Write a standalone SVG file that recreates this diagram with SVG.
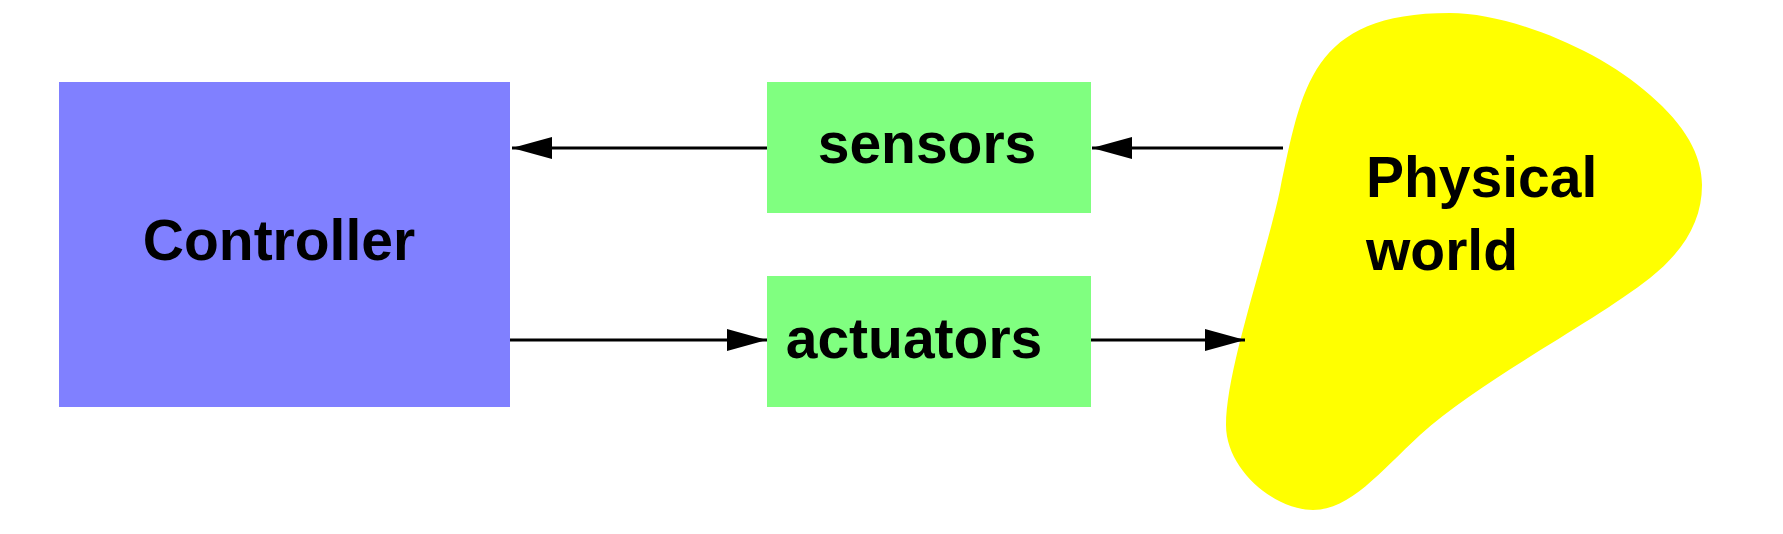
<svg xmlns="http://www.w3.org/2000/svg" width="1783" height="534" viewBox="0 0 1783 534">
<defs>
<style>
.lbl{font-family:"Liberation Sans",Arial,sans-serif;font-weight:bold;font-size:57px;fill:#000}
.conn{stroke:#000;stroke-width:3;fill:none}
</style>
<marker id="ah" markerUnits="userSpaceOnUse" markerWidth="42" markerHeight="24" refX="40" refY="12" orient="auto">
<path d="M0,1 L40,12 L0,23 Z" fill="#000"/>
</marker>
</defs>
<rect width="1783" height="534" fill="#fff"/>
<g id="controller">
<rect x="59" y="82" width="451" height="325" fill="#8080FF"/>
<text class="lbl" x="279" y="260" text-anchor="middle">Controller</text>
</g>
<g id="sensors">
<rect x="767" y="82" width="324" height="131" fill="#80FF80"/>
<text class="lbl" x="927" y="163" text-anchor="middle">sensors</text>
</g>
<g id="actuators">
<rect x="767" y="276" width="324" height="131" fill="#80FF80"/>
<text class="lbl" x="914" y="358" text-anchor="middle">actuators</text>
</g>
<g id="physical-world">
<path d="M1450,13 C1510,13 1600,50 1650,95 C1685,125 1702,155 1702,185 C1702,220 1685,250 1650,278 C1590,325 1480,380 1420,435 C1380,472 1350,510 1313,510 C1275,510 1226,470 1226,425 C1226,370 1265,260 1280,190 C1302,88 1310,13 1450,13 Z" fill="#FFFF00"/>
<text class="lbl" x="1366" y="197">Physical</text>
<text class="lbl" x="1366" y="270">world</text>
</g>
<g id="connectors">
<line class="conn" x1="1283" y1="148" x2="1092" y2="148" marker-end="url(#ah)"/>
<line class="conn" x1="767" y1="148" x2="512" y2="148" marker-end="url(#ah)"/>
<line class="conn" x1="510" y1="340" x2="767" y2="340" marker-end="url(#ah)"/>
<line class="conn" x1="1091" y1="340" x2="1245" y2="340" marker-end="url(#ah)"/>
</g>
</svg>
